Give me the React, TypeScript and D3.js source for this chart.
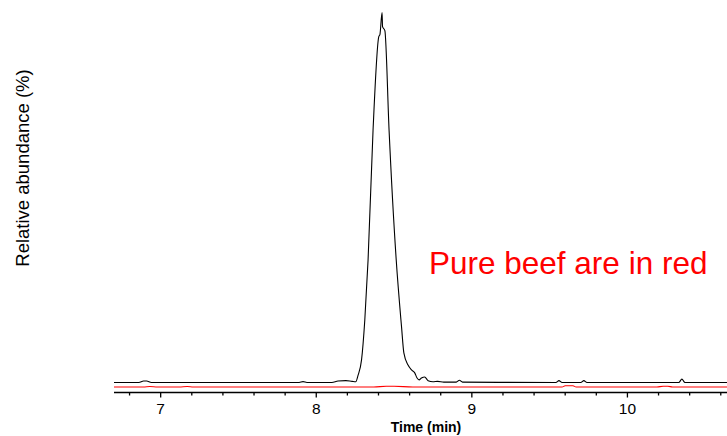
import React from "react";
import * as d3 from "d3";

const blackTime = [6.70, 6.86, 6.89, 6.91, 6.94, 7.89, 7.915, 7.94, 8.10, 8.14, 8.19, 8.23, 8.254, 8.269, 8.291, 8.312, 8.333, 8.365, 8.402, 8.409, 8.423, 8.426, 8.441, 8.468, 8.514, 8.548, 8.563, 8.590, 8.612, 8.633, 8.648, 8.661, 8.676, 8.697, 8.719, 8.75, 8.78, 8.82, 8.90, 8.92, 8.94, 9.54, 9.56, 9.58, 9.70, 9.72, 9.74, 10.33, 10.35, 10.37, 10.64];
const blackValue = [0, 0, 0.4, 0.4, 0, 0, 0.25, 0, 0, 0.4, 0.5, 0.3, 0.2, 2.0, 6.1, 16.9, 33.1, 68.2, 93.5, 94.0, 100, 96.2, 95.1, 68.2, 33.1, 15.1, 8.0, 4.7, 3.4, 2.6, 1.2, 0.7, 1.2, 1.5, 0.5, 0.2, 0.3, 0.1, 0.1, 0.6, 0.1, 0, 0.5, 0, 0, 0.5, 0, 0, 0.9, 0, 0];

const redTime = [6.70, 6.89, 6.93, 6.98, 7.12, 7.17, 7.21, 8.37, 8.45, 8.50, 8.62, 9.58, 9.60, 9.65, 9.67, 10.19, 10.23, 10.26, 10.29, 10.64];
const redValue = [0, 0, 0.15, 0, 0, 0.15, 0, 0, 0.2, 0.2, 0, 0, 0.35, 0.35, 0, 0, 0.2, 0.2, 0, 0];

const majorTicks = [7, 8, 9, 10];
const minorTicks = [6.8, 7.2, 7.4, 7.6, 7.8, 8.2, 8.4, 8.6, 8.8, 9.2, 9.4, 9.6, 9.8, 10.2, 10.4, 10.6];

const xLabel = "Time (min)";
const yLabel = "Relative abundance (%)";
const note = "Pure beef are in red";

const W = 727;
const H = 436;
const FONT = "'Liberation Sans', Arial, Helvetica, sans-serif";

export default function App() {
  const x = d3.scaleLinear().domain([6.70, 10.64]).range([114, 727]);
  const y = d3.scaleLinear().domain([0, 100]).range([382.5, 12.5]);
  const axisY = 392.5;

  const line = d3
    .line<[number, number]>()
    .x((d) => x(d[0]))
    .y((d) => y(d[1]))
    .curve(d3.curveMonotoneX);

  const black = blackTime.map((t, i) => [t, blackValue[i]] as [number, number]);
  const red = redTime.map((t, i) => [t, redValue[i]] as [number, number]);

  return (
    <div style={{ position: "absolute", left: 0, top: 0 }}>
      <svg width={W} height={H} style={{ display: "block" }}>
        <rect width={W} height={H} fill="#fff" />
        <path d={line(black) || ""} fill="none" stroke="#000" strokeWidth={1.1} />
        <g transform="translate(0,4.5)">
          <path d={line(red) || ""} fill="none" stroke="#ff0000" strokeWidth={1.1} />
        </g>
        <line x1={x(6.70)} x2={x(10.64)} y1={axisY} y2={axisY} stroke="#000" strokeWidth={1.5} />
        {minorTicks.map((t) => (
          <line key={"m" + t} x1={x(t)} x2={x(t)} y1={axisY} y2={axisY + 3} stroke="#000" strokeWidth={1.3} />
        ))}
        {majorTicks.map((t) => (
          <g key={"M" + t}>
            <line x1={x(t)} x2={x(t)} y1={axisY} y2={axisY + 5} stroke="#000" strokeWidth={1.3} />
            <text x={x(t)} y={414} textAnchor="middle" fontFamily={FONT} fontSize={15.5} fill="#000">
              {t}
            </text>
          </g>
        ))}
        <text x={426} y={432} textAnchor="middle" fontFamily={FONT} fontSize={14} fontWeight="bold" fill="#000">
          {xLabel}
        </text>
        <text
          transform="translate(29,168) rotate(-90)"
          textAnchor="middle"
          fontFamily={FONT}
          fontSize={18.5}
          fill="#000"
        >
          {yLabel}
        </text>
        <text x={429} y={274} fontFamily={FONT} fontSize={31.5} fill="#ff0000">
          {note}
        </text>
      </svg>
    </div>
  );
}
